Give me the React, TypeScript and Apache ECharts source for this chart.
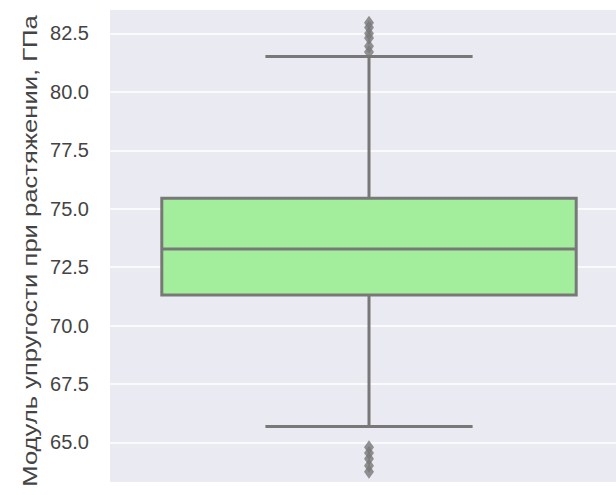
import React, { useEffect, useRef } from "react";
import * as echarts from "echarts";

const categories = ["Модуль упругости при растяжении, ГПа"];
const yTickValues = [65, 67.5, 70, 72.5, 75, 77.5, 80, 82.5];
// [lower whisker, Q1, median, Q3, upper whisker]
const boxStats = [65.68, 71.31, 73.28, 75.45, 81.51];
const outlierValues = [82.95, 82.75, 82.5, 82.3, 81.95, 81.7, 64.8, 64.55, 64.3, 64.0, 63.75];
const yMin = 63.31;
const yMax = 83.5;
const axisTitle = "Модуль упругости при растяжении, ГПа";

const LINE = "#787878";
const FILL = "#a2ee9c";

export default function App() {
  const ref = useRef<HTMLDivElement>(null);
  useEffect(() => {
    if (!ref.current) return;
    const chart = echarts.init(ref.current, null, { renderer: "svg" });
    chart.setOption({
      animation: false,
      backgroundColor: "#ffffff",
      grid: {
        left: 110,
        right: 0,
        top: 10,
        bottom: 13,
        show: true,
        backgroundColor: "#eaeaf2",
        borderWidth: 0,
      },
      xAxis: {
        type: "category",
        data: categories,
        boundaryGap: true,
        axisLine: { show: false },
        axisTick: { show: false },
        axisLabel: { show: false },
        splitLine: { show: false },
      },
      yAxis: {
        type: "value",
        min: yMin,
        max: yMax,
        axisLine: { show: false },
        axisTick: { show: false, customValues: yTickValues },
        axisLabel: {
          customValues: yTickValues,
          formatter: (v: number) => v.toFixed(1),
          fontFamily: "Liberation Sans, Arial, sans-serif",
          fontSize: 20,
          color: "#444444",
          margin: 21,
        },
        splitLine: { show: true, lineStyle: { color: "#ffffff", width: 1.5 } },
      },
      graphic: [
        {
          type: "text",
          x: 29.7,
          y: 251,
          rotation: Math.PI / 2,
          scaleX: 1.22,
          scaleY: 1,
          style: {
            text: axisTitle,
            fontFamily: "Liberation Sans, Arial, sans-serif",
            fontSize: 21,
            fill: "#444444",
            align: "center",
            verticalAlign: "middle",
          },
        },
      ],
      series: [
        {
          type: "custom",
          data: [[0, ...boxStats]],
          encode: { x: 0, y: [1, 2, 3, 4, 5] },
          z: 2,
          renderItem: (params: any, api: any) => {
            const x = api.value(0);
            const lo = api.coord([x, api.value(1)]);
            const q1 = api.coord([x, api.value(2)]);
            const med = api.coord([x, api.value(3)]);
            const q3 = api.coord([x, api.value(4)]);
            const hi = api.coord([x, api.value(5)]);
            const bw = api.size([1, 0])[0] * 0.8;
            const cx = lo[0];
            const hw = bw / 2;
            const cw = bw / 4;
            const ls = { stroke: LINE, lineWidth: 3 };
            return {
              type: "group",
              children: [
                { type: "line", shape: { x1: cx, y1: q3[1], x2: cx, y2: hi[1] }, style: ls },
                { type: "line", shape: { x1: cx, y1: q1[1], x2: cx, y2: lo[1] }, style: ls },
                { type: "line", shape: { x1: cx - cw, y1: hi[1], x2: cx + cw, y2: hi[1] }, style: ls },
                { type: "line", shape: { x1: cx - cw, y1: lo[1], x2: cx + cw, y2: lo[1] }, style: ls },
                {
                  type: "rect",
                  shape: { x: cx - hw, y: q3[1], width: bw, height: q1[1] - q3[1] },
                  style: { fill: FILL, stroke: LINE, lineWidth: 3 },
                },
                { type: "line", shape: { x1: cx - hw, y1: med[1], x2: cx + hw, y2: med[1] }, style: ls },
              ],
            };
          },
        },
        {
          type: "scatter",
          data: outlierValues.map((v) => [0, v]),
          symbol: "diamond",
          symbolSize: [10, 14],
          itemStyle: { color: LINE },
          z: 3,
        },
      ],
    });
    return () => chart.dispose();
  }, []);
  return (
    <div
      style={{
        position: "absolute",
        left: 0,
        top: 0,
        width: 616,
        height: 495,
        overflow: "hidden",
      }}
    >
      <div ref={ref} style={{ width: 628, height: 495 }} />
    </div>
  );
}
